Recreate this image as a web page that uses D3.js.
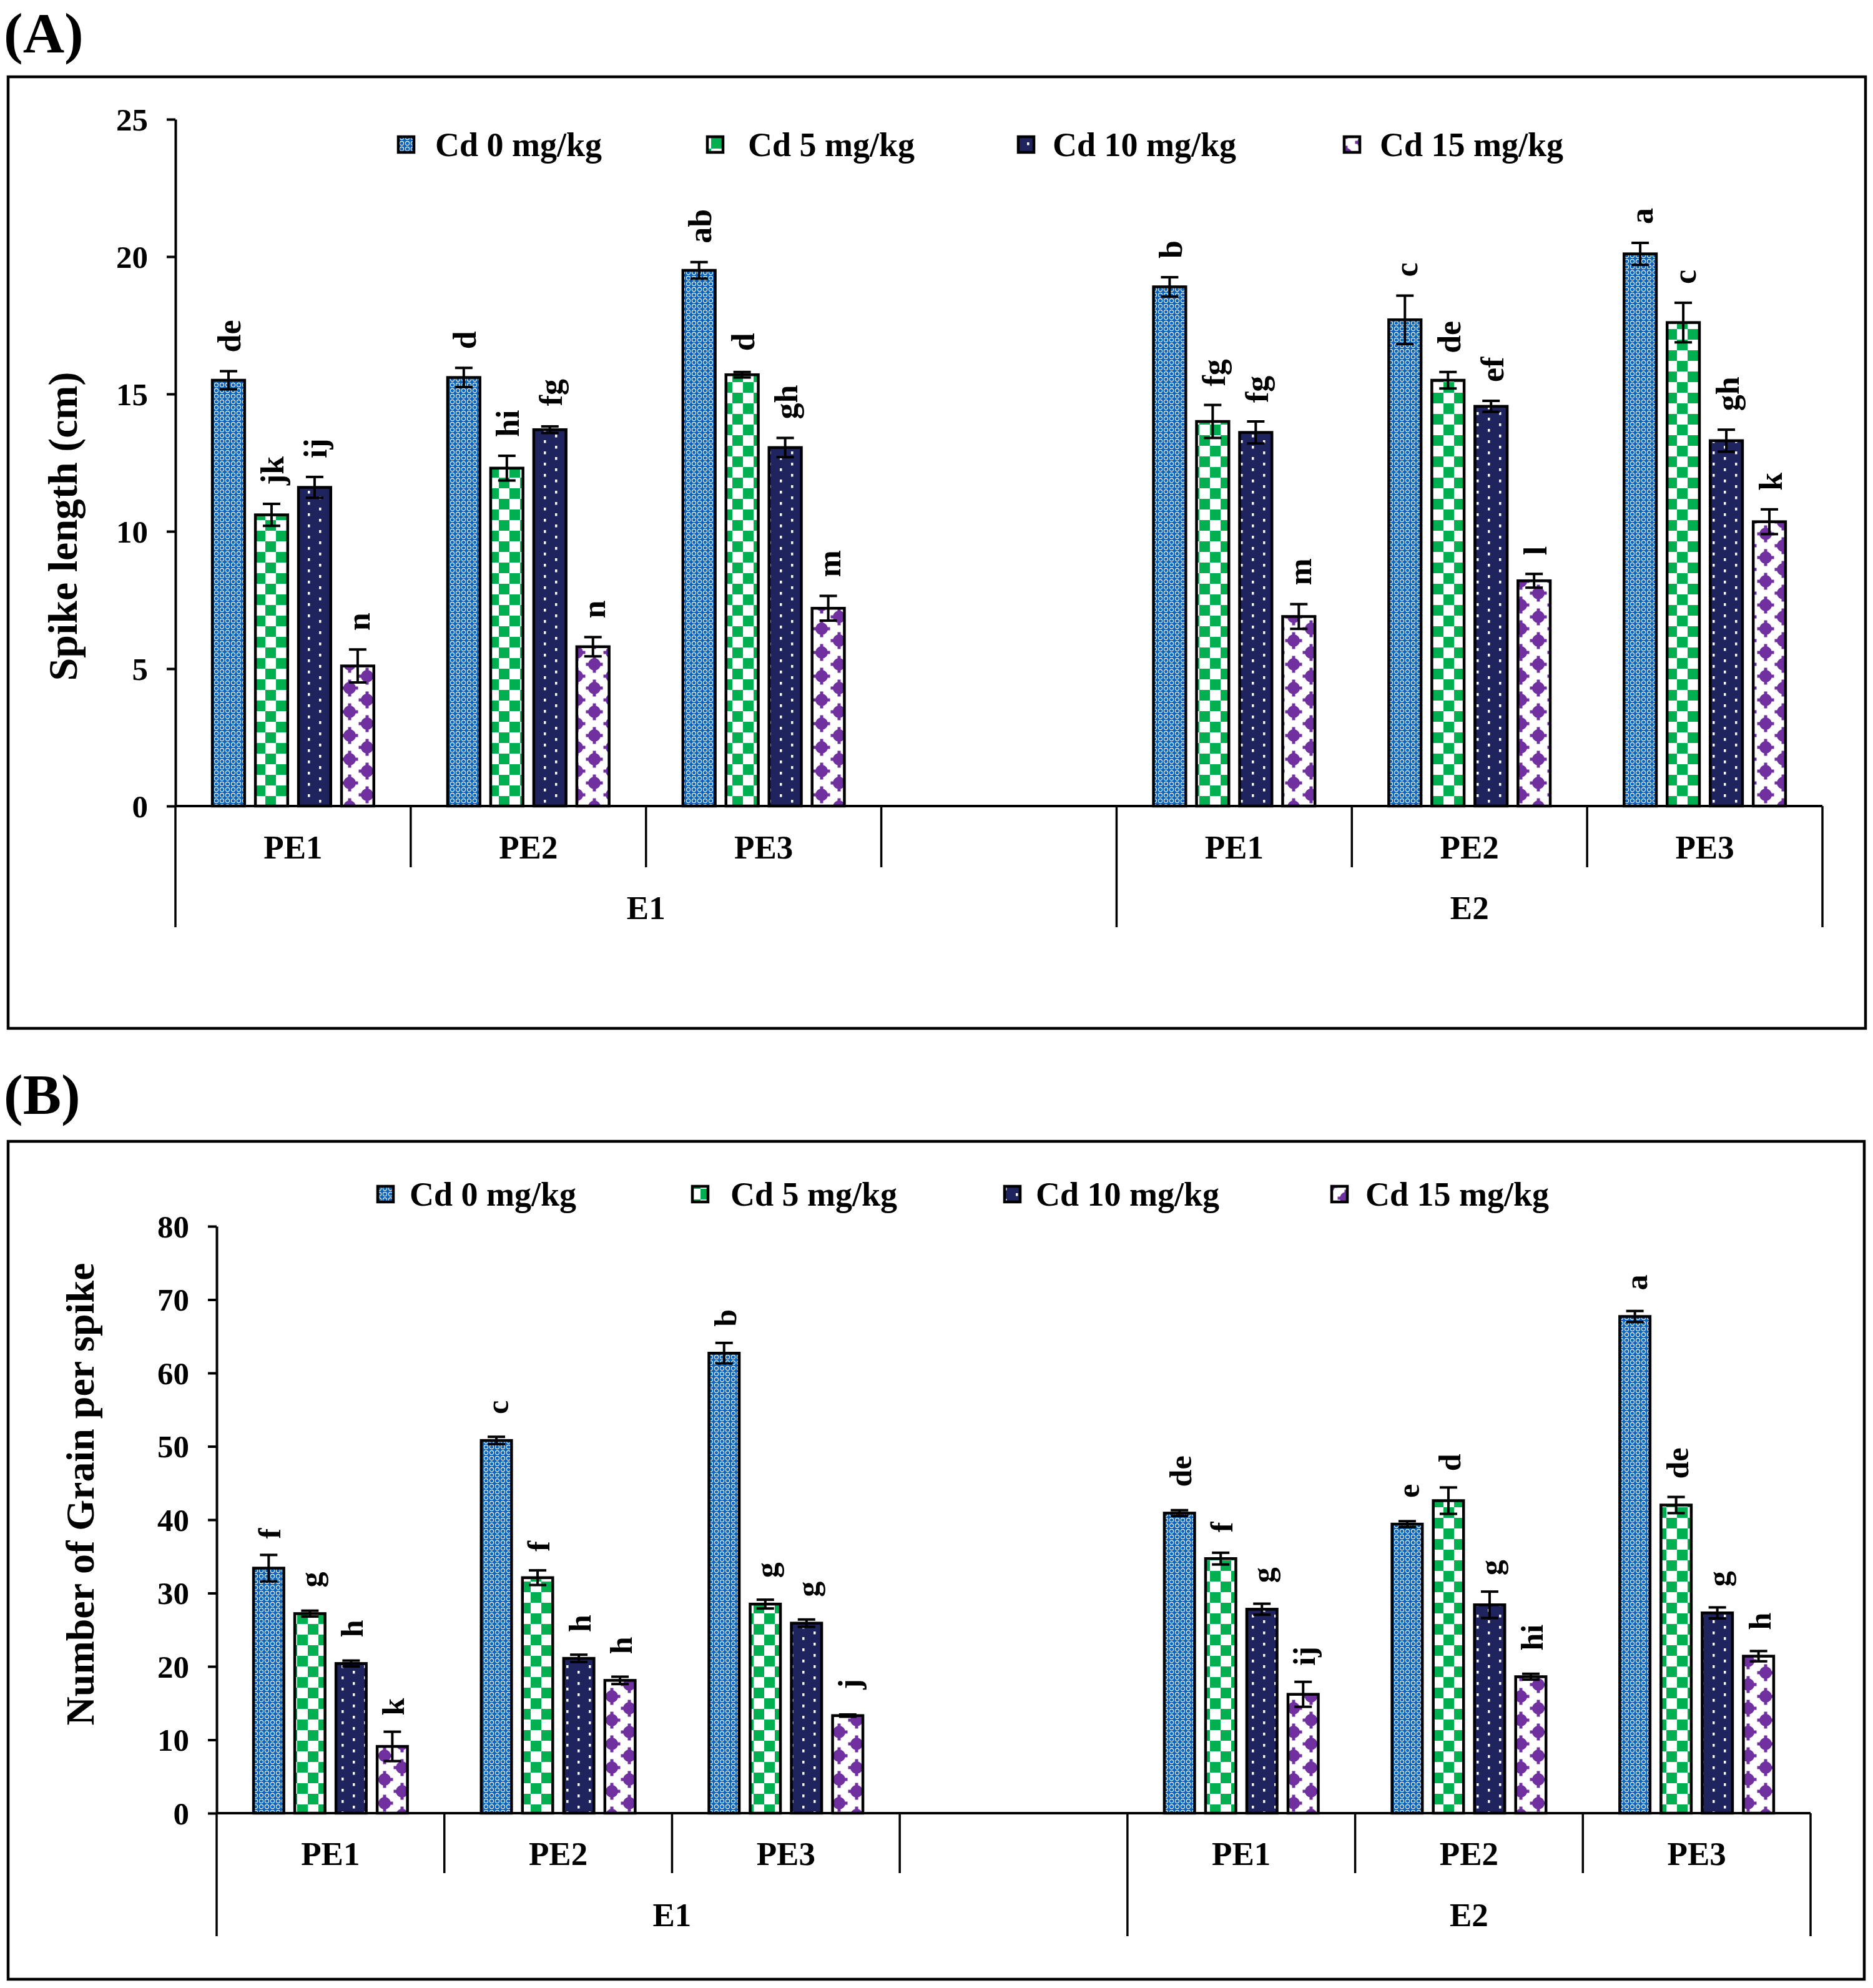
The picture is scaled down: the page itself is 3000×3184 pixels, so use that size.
<!DOCTYPE html>
<html><head><meta charset="utf-8">
<script src="https://cdn.jsdelivr.net/npm/d3@7"></script>
<style>
body{margin:0;background:#fff}
svg{display:block}
text{font-family:"Liberation Serif","Times New Roman",serif;font-weight:bold;fill:#000}
</style>
</head><body>
<svg id="chart" width="3000" height="3184"></svg>
<script>
// ---------------- DATA ----------------
const series = ["Cd 0 mg/kg", "Cd 5 mg/kg", "Cd 10 mg/kg", "Cd 15 mg/kg"];
const slots = ["E1-PE1", "E1-PE2", "E1-PE3", "E1-blank", "E2-PE1", "E2-PE2", "E2-PE3"];
const slotLabels = ["PE1", "PE2", "PE3", "", "PE1", "PE2", "PE3"];
const environments = ["E1", "E2"];
const dataSlots = ["E1-PE1", "E1-PE2", "E1-PE3", "E2-PE1", "E2-PE2", "E2-PE3"];

// Panel A: Spike length (cm)
const spikeTicks = [0, 5, 10, 15, 20, 25];
const spikeMean = [
  [15.5, 10.6, 11.6, 5.1],
  [15.6, 12.3, 13.7, 5.8],
  [19.5, 15.7, 13.05, 7.2],
  [18.9, 14.0, 13.6, 6.9],
  [17.7, 15.5, 14.55, 8.2],
  [20.1, 17.6, 13.3, 10.35]
];
const spikeErr = [
  [0.33, 0.4, 0.38, 0.6],
  [0.35, 0.45, 0.12, 0.35],
  [0.3, 0.1, 0.35, 0.45],
  [0.35, 0.6, 0.4, 0.45],
  [0.88, 0.3, 0.2, 0.25],
  [0.4, 0.72, 0.4, 0.45]
];
const spikeLetters = [
  ["de", "jk", "ij", "n"],
  ["d", "hi", "fg", "n"],
  ["ab", "d", "gh", "m"],
  ["b", "fg", "fg", "m"],
  ["c", "de", "ef", "l"],
  ["a", "c", "gh", "k"]
];

// Panel B: Number of Grain per spike
const grainTicks = [0, 10, 20, 30, 40, 50, 60, 70, 80];
const grainMean = [
  [33.4, 27.2, 20.4, 9.1],
  [50.8, 32.1, 21.1, 18.1],
  [62.7, 28.5, 25.9, 13.3],
  [40.9, 34.7, 27.8, 16.2],
  [39.4, 42.6, 28.4, 18.6],
  [67.7, 42.0, 27.3, 21.4]
];
const grainErr = [
  [1.8, 0.4, 0.4, 2.0],
  [0.5, 1.0, 0.5, 0.5],
  [1.4, 0.6, 0.5, 0.15],
  [0.4, 0.8, 0.75, 1.7],
  [0.4, 1.8, 1.8, 0.4],
  [0.75, 1.1, 0.75, 0.7]
];
const grainLetters = [
  ["f", "g", "h", "k"],
  ["c", "f", "h", "h"],
  ["b", "g", "g", "j"],
  ["de", "f", "g", "ij"],
  ["e", "d", "g", "hi"],
  ["a", "de", "g", "h"]
];

// ---------------- STYLE ----------------
const svg = d3.select("#chart");
svg.append("rect").attr("width", 3000).attr("height", 3184).attr("fill", "#fff");
const defs = svg.append("defs");

// Cd0: blue with white lattice
const p0 = defs.append("pattern").attr("id", "pat0").attr("patternUnits", "userSpaceOnUse")
  .attr("width", 9).attr("height", 9);
p0.append("rect").attr("width", 9).attr("height", 9).attr("fill", "#0A62BA");
p0.append("circle").attr("cx", 4.5).attr("cy", 4.5).attr("r", 3.1)
  .attr("fill", "none").attr("stroke", "#fff").attr("stroke-width", 1.1);
p0.append("circle").attr("cx", 4.5).attr("cy", 4.5).attr("r", 1.3).attr("fill", "#0D6BC8");

// Cd5: green/white checkerboard
const p1 = defs.append("pattern").attr("id", "pat1").attr("patternUnits", "userSpaceOnUse")
  .attr("width", 34).attr("height", 34);
p1.append("rect").attr("width", 34).attr("height", 34).attr("fill", "#fff");
p1.append("rect").attr("width", 17).attr("height", 17).attr("fill", "#00B050");
p1.append("rect").attr("x", 17).attr("y", 17).attr("width", 17).attr("height", 17).attr("fill", "#00B050");

// Cd10: navy with small white dots
const p2 = defs.append("pattern").attr("id", "pat2").attr("patternUnits", "userSpaceOnUse")
  .attr("width", 36).attr("height", 18);
p2.append("rect").attr("width", 36).attr("height", 18).attr("fill", "#1F235E");
p2.append("rect").attr("x", 7).attr("y", 3).attr("width", 3.5).attr("height", 4.5).attr("fill", "#fff");
p2.append("rect").attr("x", 25).attr("y", 12).attr("width", 3.5).attr("height", 4.5).attr("fill", "#fff");

// Cd15: white with purple blobs
const p3 = defs.append("pattern").attr("id", "pat3").attr("patternUnits", "userSpaceOnUse")
  .attr("width", 56).attr("height", 38);
p3.append("rect").attr("width", 56).attr("height", 38).attr("fill", "#fff");
function blob(g, cx, cy) {
  g.append("circle").attr("cx", cx).attr("cy", cy).attr("r", 10).attr("fill", "#7030A0");
  g.append("rect").attr("x", cx - 2.5).attr("y", cy - 13.5).attr("width", 5).attr("height", 27).attr("fill", "#7030A0");
  g.append("rect").attr("x", cx - 13.5).attr("y", cy - 2.5).attr("width", 27).attr("height", 5).attr("fill", "#7030A0");
}
[[0, 0], [56, 0], [0, 38], [56, 38], [28, 19]].forEach(([a, b]) => blob(p3, a, b));

const fills = ["url(#pat0)", "url(#pat1)", "url(#pat2)", "url(#pat3)"];

// ---------------- PANEL ----------------
function drawPanel(cfg) {
  const g = svg.append("g");

  // outer frame
  g.append("rect").attr("x", cfg.box[0]).attr("y", cfg.box[1])
    .attr("width", cfg.box[2]).attr("height", cfg.box[3])
    .attr("fill", "none").attr("stroke", "#000").attr("stroke-width", 4.5);

  // panel letter
  g.append("text").attr("x", cfg.tag[0]).attr("y", cfg.tag[1])
    .attr("font-size", cfg.tagSize).text(cfg.tagText);

  const y = d3.scaleLinear().domain([0, cfg.yMax]).range([cfg.y0, cfg.yTop]);
  const x0 = d3.scaleBand().domain(slots).range([cfg.axisX, cfg.xEnd]).padding(0);
  const x1 = d3.scaleBand().domain(series).range([0, x0.bandwidth()])
    .paddingInner(cfg.padIn).paddingOuter(cfg.padOut);

  // bars
  const rows = [];
  dataSlots.forEach((s, i) => series.forEach((ser, j) => rows.push({
    slot: s, ser, j, v: cfg.mean[i][j], e: cfg.err[i][j], lab: cfg.letters[i][j]
  })));

  g.selectAll("rect.bar").data(rows).join("rect").attr("class", "bar")
    .attr("x", d => x0(d.slot) + x1(d.ser))
    .attr("y", d => y(d.v))
    .attr("width", x1.bandwidth())
    .attr("height", d => y(0) - y(d.v))
    .attr("fill", d => fills[d.j])
    .attr("stroke", "#000").attr("stroke-width", 4.5);

  // error bars
  const eb = g.selectAll("g.err").data(rows).join("g").attr("class", "err")
    .attr("stroke", "#000").attr("stroke-width", 4);
  const cx = d => x0(d.slot) + x1(d.ser) + x1.bandwidth() / 2;
  eb.append("line").attr("x1", cx).attr("x2", cx)
    .attr("y1", d => y(d.v - d.e)).attr("y2", d => y(d.v + d.e));
  eb.append("line").attr("x1", d => cx(d) - 14).attr("x2", d => cx(d) + 14)
    .attr("y1", d => y(d.v + d.e)).attr("y2", d => y(d.v + d.e));
  eb.append("line").attr("x1", d => cx(d) - 14).attr("x2", d => cx(d) + 14)
    .attr("y1", d => y(d.v - d.e)).attr("y2", d => y(d.v - d.e));

  // significance letters (rotated)
  g.selectAll("text.sig").data(rows).join("text").attr("class", "sig")
    .attr("font-size", cfg.sigSize)
    .attr("text-anchor", "start")
    .attr("dominant-baseline", "central")
    .attr("transform", d => {
      const yy = Math.min(y(d.v) - cfg.sigGapBar, y(d.v + d.e) - cfg.sigGapErr);
      return `translate(${cx(d) + 2},${yy}) rotate(-90)`;
    })
    .text(d => d.lab);

  // y axis
  const ax = g.append("g").attr("transform", `translate(${cfg.axisX},0)`)
    .call(d3.axisLeft(y).tickValues(cfg.ticks).tickSize(14).tickSizeOuter(0).tickPadding(30));
  ax.select(".domain").attr("stroke-width", 4);
  ax.selectAll(".tick line").attr("stroke-width", 4);
  ax.selectAll(".tick text").attr("font-size", cfg.tickSize)
    .style("font-family", '"Liberation Serif","Times New Roman",serif').style("font-weight", "bold")
    .attr("dy", "0.34em");
  ax.attr("font-size", null).attr("font-family", null);

  // multi-level category axis
  g.append("line").attr("x1", cfg.axisX).attr("x2", cfg.xEnd)
    .attr("y1", y(0)).attr("y2", y(0)).attr("stroke", "#000").attr("stroke-width", 4);
  slots.forEach((s, i) => {
    const xs = x0(s);
    const longLine = (i === 0 || i === 4);
    g.append("line").attr("x1", xs).attr("x2", xs).attr("y1", y(0))
      .attr("y2", longLine ? cfg.longBottom : cfg.shortBottom)
      .attr("stroke", "#000").attr("stroke-width", 3.5);
  });
  g.append("line").attr("x1", cfg.xEnd).attr("x2", cfg.xEnd).attr("y1", y(0))
    .attr("y2", cfg.longBottom).attr("stroke", "#000").attr("stroke-width", 3.5);

  slots.forEach((s, i) => {
    if (!slotLabels[i]) return;
    g.append("text").attr("x", x0(s) + x0.bandwidth() / 2).attr("y", cfg.peY)
      .attr("text-anchor", "middle").attr("dominant-baseline", "central")
      .attr("font-size", cfg.catSize).text(slotLabels[i]);
  });
  environments.forEach((e, k) => {
    const first = k === 0 ? 0 : 4, last = k === 0 ? 3 : 6;
    const xm = (x0(slots[first]) + x0(slots[last]) + x0.bandwidth()) / 2;
    g.append("text").attr("x", xm).attr("y", cfg.eY)
      .attr("text-anchor", "middle").attr("dominant-baseline", "central")
      .attr("font-size", cfg.catSize).text(e);
  });

  // y title
  g.append("text").attr("transform", `translate(${cfg.titlePos[0]},${cfg.titlePos[1]}) rotate(-90)`)
    .attr("text-anchor", "middle").attr("dominant-baseline", "central")
    .attr("font-size", cfg.titleSize).text(cfg.title);

  // legend
  series.forEach((s, j) => {
    g.append("rect").attr("x", cfg.legMarkX[j]).attr("y", cfg.legY - 13)
      .attr("width", 25).attr("height", 25).attr("fill", fills[j])
      .attr("stroke", "#000").attr("stroke-width", 4.5);
    g.append("text").attr("x", cfg.legTextX[j]).attr("y", cfg.legY)
      .attr("dominant-baseline", "central").attr("font-size", cfg.legSize).text(s);
  });
}

drawPanel({
  box: [13, 123, 2975, 1524],
  tag: [6, 84], tagSize: 92, tagText: "(A)",
  yMax: 25, y0: 1291, yTop: 191, ticks: spikeTicks,
  axisX: 281, xEnd: 2919,
  padIn: 0.25, padOut: 0.857,
  mean: spikeMean, err: spikeErr, letters: spikeLetters,
  sigSize: 52, sigGapBar: 38, sigGapErr: 30,
  tickSize: 51,
  shortBottom: 1389, longBottom: 1485,
  peY: 1357, eY: 1454, catSize: 53,
  title: "Spike length (cm)", titlePos: [100, 843], titleSize: 66,
  legY: 232, legMarkX: [638, 1133, 1631, 2153], legTextX: [697, 1198, 1686, 2210], legSize: 54
});

drawPanel({
  box: [13, 1828, 2973, 1342],
  tag: [6, 1784], tagSize: 92, tagText: "(B)",
  yMax: 80, y0: 2904, yTop: 1964, ticks: grainTicks,
  axisX: 347, xEnd: 2900,
  padIn: 0.265, padOut: 0.895,
  mean: grainMean, err: grainErr, letters: grainLetters,
  sigSize: 50, sigGapBar: 42, sigGapErr: 26,
  tickSize: 51,
  shortBottom: 3000, longBottom: 3101,
  peY: 2969, eY: 3067, catSize: 53,
  title: "Number of Grain per spike", titlePos: [128, 2393], titleSize: 64,
  legY: 1913, legMarkX: [605, 1109, 1609, 2133], legTextX: [656, 1170, 1659, 2187], legSize: 54
});
</script>
</body></html>
